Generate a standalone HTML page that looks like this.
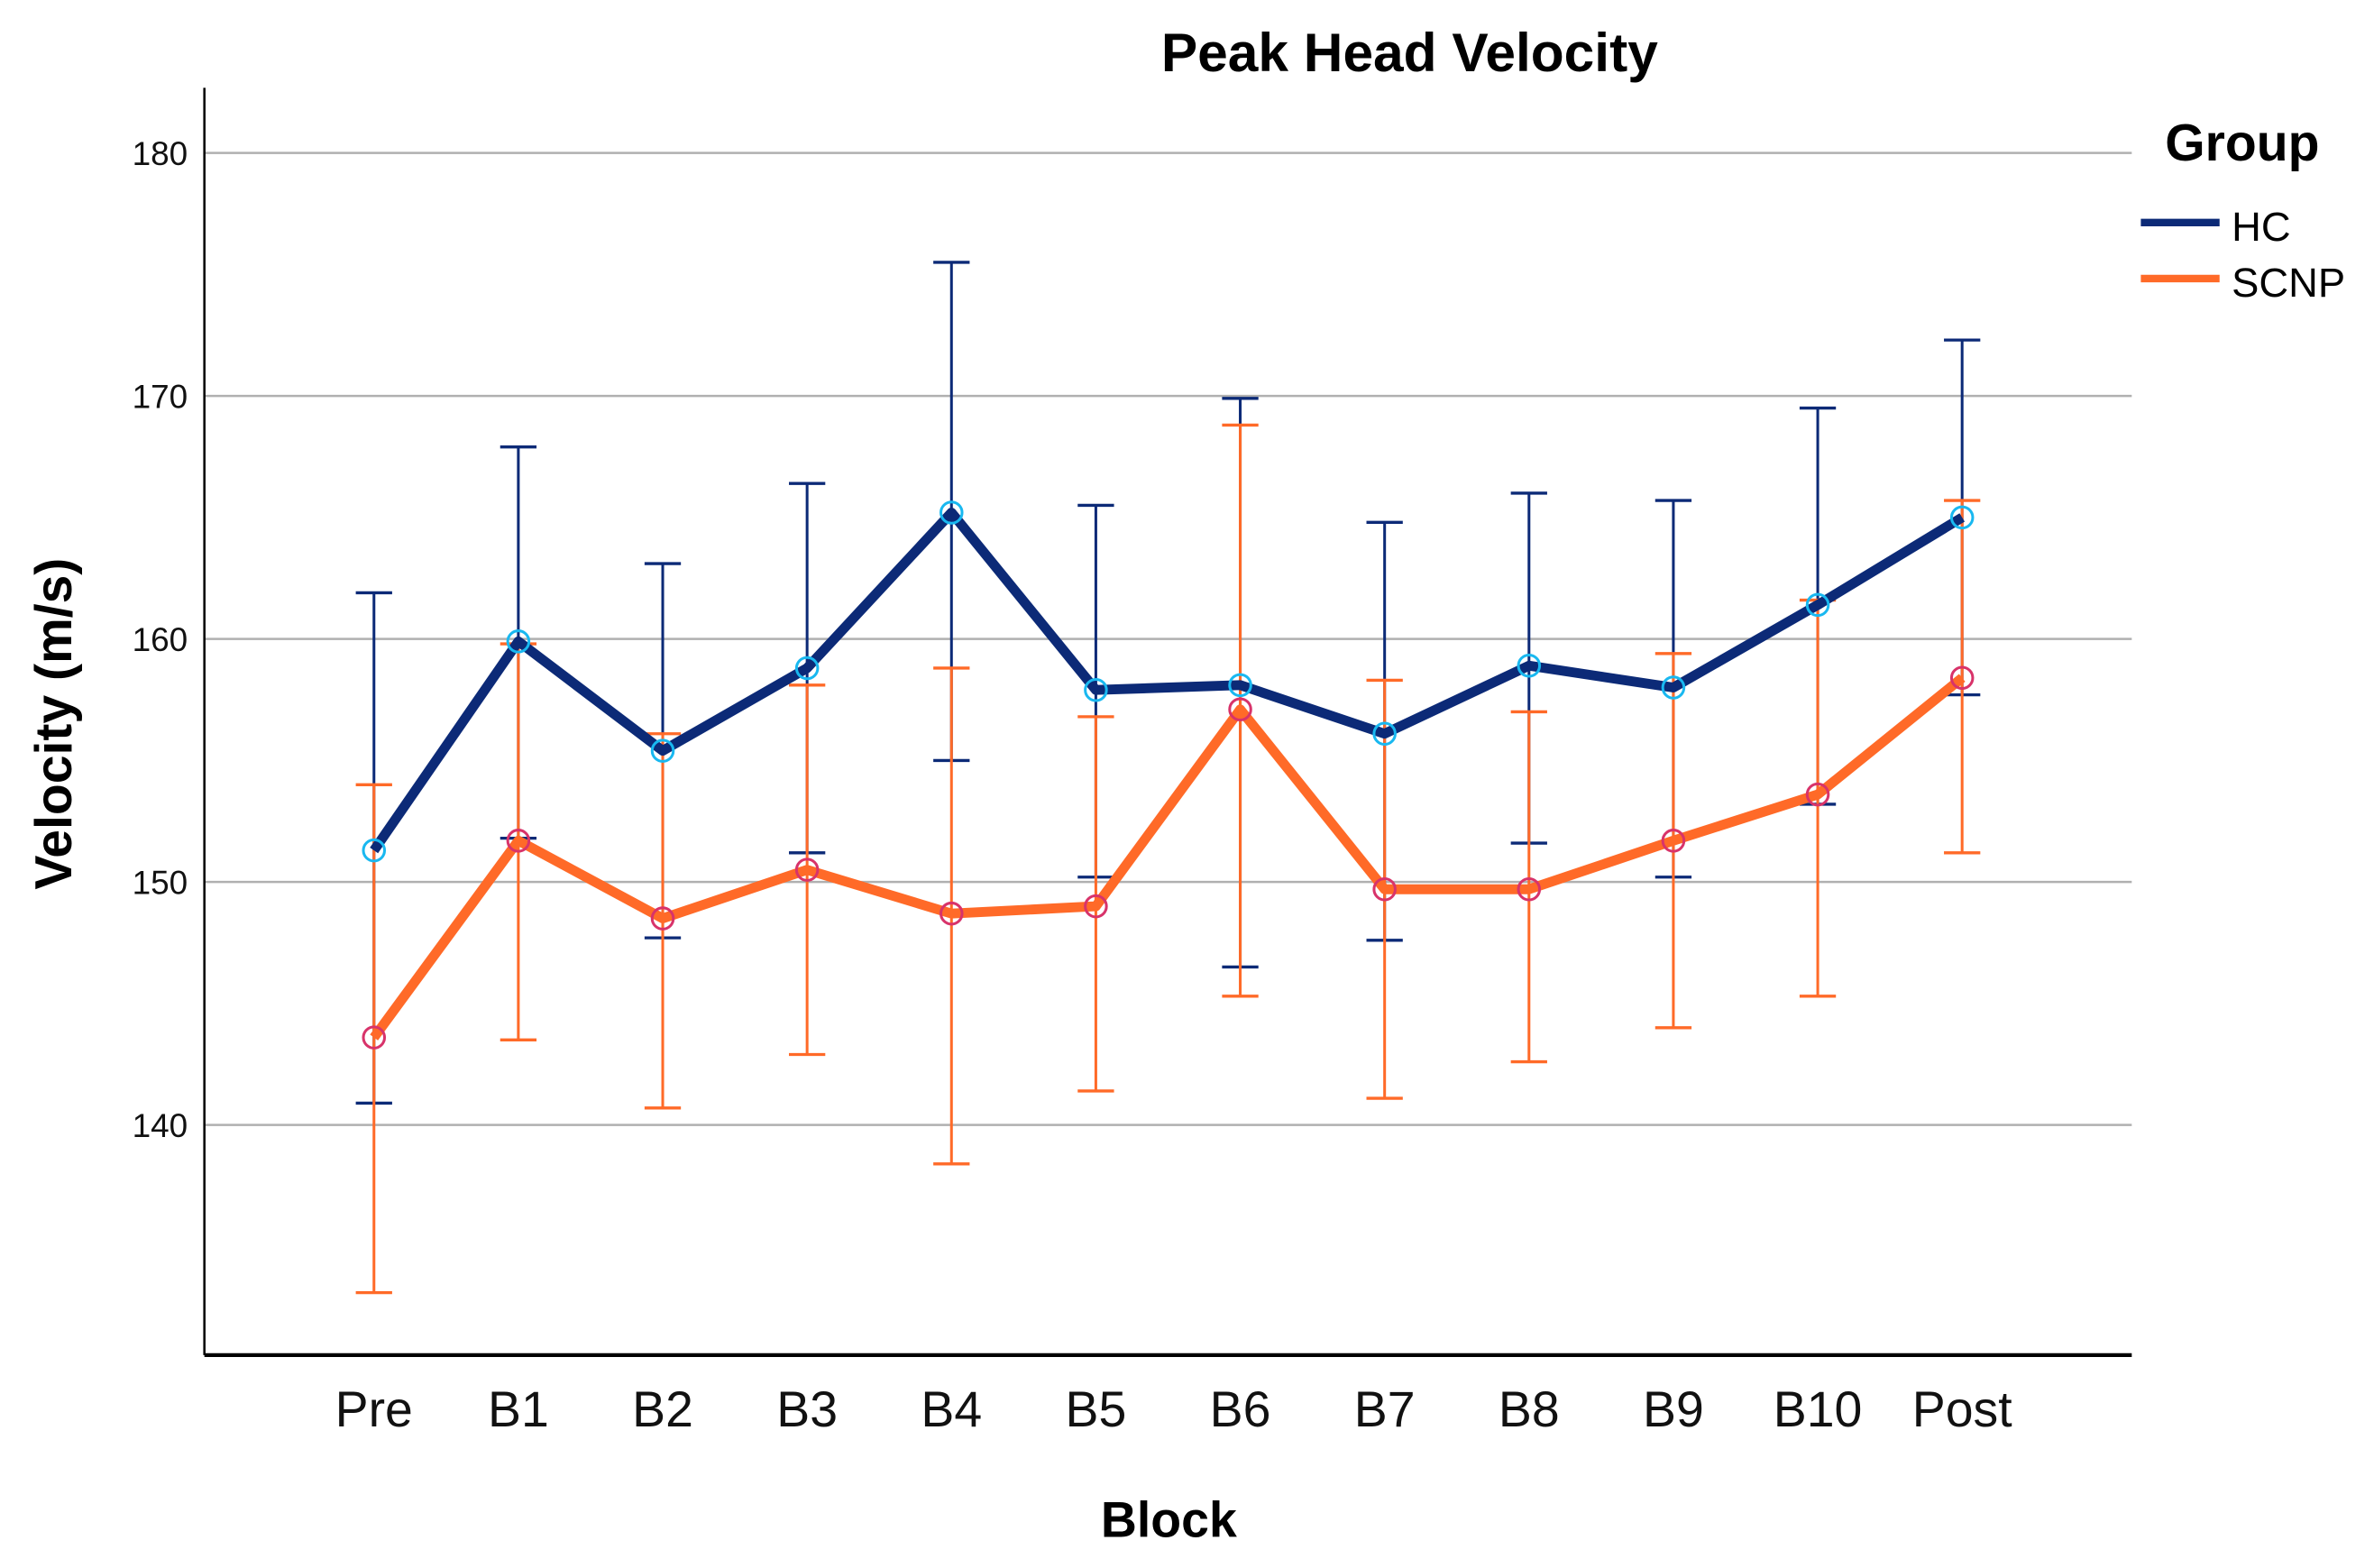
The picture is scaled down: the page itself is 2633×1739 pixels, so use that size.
<!DOCTYPE html>
<html><head><meta charset="utf-8"><style>
html,body{margin:0;padding:0;background:#fff;}
svg{display:block;}
text{font-family:"Liberation Sans",sans-serif;}
</style></head><body>
<svg id="chart" width="2633" height="1739" viewBox="0 0 1568 1035.6" xmlns="http://www.w3.org/2000/svg">
<rect x="0" y="0" width="1568" height="1036" fill="#fff"/>
<g id="grid"></g>
<g id="yticks"></g>
<g id="xticks"></g>
<line x1="135" y1="58" x2="135" y2="895" stroke="#000" stroke-width="1.5"/>
<line x1="135" y1="895" x2="1408" y2="895" stroke="#000" stroke-width="2.5"/>
<g id="series"></g>
<text x="931" y="47" text-anchor="middle" font-size="36" font-weight="bold">Peak Head Velocity</text>
<text transform="translate(47,478) rotate(-90)" text-anchor="middle" font-size="34" font-weight="bold">Velocity (m/s)</text>
<text x="772" y="1015" text-anchor="middle" font-size="33" font-weight="bold">Block</text>
<g>
<text x="1430" y="106" font-size="34" font-weight="bold">Group</text>
<g>
<line x1="1414" y1="147" x2="1466" y2="147" stroke="#0c2a77" stroke-width="5"/>
<text x="1474" y="159" font-size="27">HC</text>
</g>
<g>
<line x1="1414" y1="184" x2="1466" y2="184" stroke="#ff6a28" stroke-width="5"/>
<text x="1474" y="196" font-size="27">SCNP</text>
</g>
</g>
</svg>
<script>
const categories = ["Pre","B1","B2","B3","B4","B5","B6","B7","B8","B9","B10","Post"];
const yTicks = [140,150,160,170,180];
const hcMean = [151.3,159.9,155.4,158.8,165.2,157.9,158.1,156.1,158.9,158.0,161.4,165.0];
const hcUpper = [161.9,167.9,163.1,166.4,175.5,165.5,169.9,164.8,166.0,165.7,169.5,172.3];
const hcLower = [140.9,151.8,147.7,151.2,155.0,150.2,146.5,147.6,151.6,150.2,153.2,157.7];
const scnpMean = [143.6,151.7,148.5,150.5,148.7,149.0,157.1,149.7,149.7,151.7,153.6,158.4];
const scnpUpper = [154.0,159.8,156.1,158.1,158.8,156.8,168.8,158.3,157.0,159.4,161.6,165.7];
const scnpLower = [133.1,143.5,140.7,142.9,138.4,141.4,145.3,141.1,142.6,144.0,145.3,151.2];

const NS = "http://www.w3.org/2000/svg";
function xPos(i){ return 247 + i*95.36; }
function yPos(v){ return 101 + (180 - v)*16.05; }
function mk(tag, attrs, parent){
  const e = document.createElementNS(NS, tag);
  for (const k in attrs) e.setAttribute(k, attrs[k]);
  parent.appendChild(e);
  return e;
}
const grid = document.getElementById('grid');
const yt = document.getElementById('yticks');
yTicks.forEach(function(t){
  const l = mk('line', {x1:135, x2:1408, y1:yPos(t), y2:yPos(t), stroke:'#b0b0b0', 'stroke-width':1.5}, grid);
  
  
  const tx = mk('text', {x:124, y:yPos(t)+8, 'text-anchor':'end', 'font-size':22, fill:'#111'}, yt);
  tx.textContent = t;
  
  
});
const xt = document.getElementById('xticks');
categories.forEach(function(c, i){
  const tx = mk('text', {x:xPos(i), y:942, 'text-anchor':'middle', 'font-size':33, fill:'#111'}, xt);
  tx.textContent = c;
  
  
});
const series = document.getElementById('series');
function drawErr(up, lo, color, name){
  const g = mk('g', {}, series);
  
  
  up.forEach(function(u, i){
    const x = xPos(i);
    const l = mk('line', {x1:x, x2:x, y1:yPos(u), y2:yPos(lo[i]), stroke:color, 'stroke-width':1.8}, g);
    
    
    [u, lo[i]].forEach(function(v){
      const cp = mk('line', {x1:x-12, x2:x+12, y1:yPos(v), y2:yPos(v), stroke:color, 'stroke-width':2}, g);
      
      
    });
  });
}
function drawLine(m, color, mcolor, name){
  const pts = m.map(function(v, i){ return xPos(i) + ',' + yPos(v); }).join(' ');
  const pl = mk('polyline', {points:pts, fill:'none', stroke:color, 'stroke-width':6.5, 'stroke-linejoin':'round'}, series);
  
  
  m.forEach(function(v, i){
    const c = mk('circle', {cx:xPos(i), cy:yPos(v), r:7, fill:'none', stroke:mcolor, 'stroke-width':1.8}, series);
    
    
  });
}
drawErr(hcUpper, hcLower, '#0c2a77', 'hc');
drawErr(scnpUpper, scnpLower, '#ff6a28', 'scnp');
drawLine(hcMean, '#0c2a77', '#19b8f0', 'hc');
drawLine(scnpMean, '#ff6a28', '#d8336a', 'scnp');
</script>
</body></html>
